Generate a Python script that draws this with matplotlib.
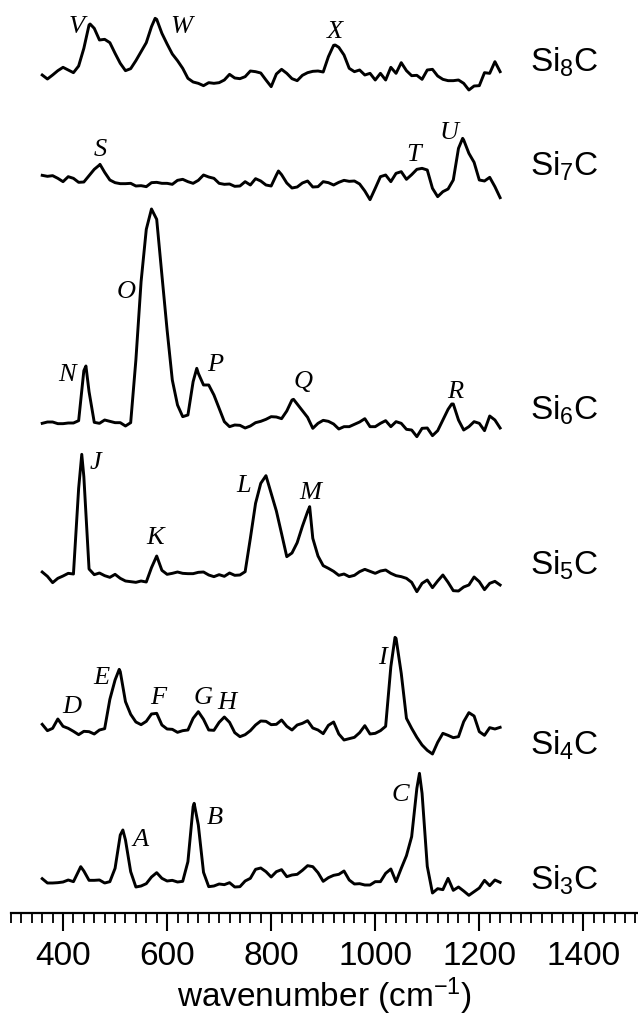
import numpy as np
import matplotlib
matplotlib.use('Agg')
import matplotlib.pyplot as plt
from matplotlib.ticker import MultipleLocator

plt.rcParams['font.family'] = ['Liberation Sans', 'DejaVu Sans']
plt.rcParams['mathtext.default'] = 'regular'

# wavenumber grid (cm-1) shared by all traces
wn = [360, 370, 380, 390, 400, 410, 420, 430, 440, 450, 460, 470, 480, 490, 500,
      510, 520, 530, 540, 550, 560, 570, 580, 590, 600, 610, 620, 630, 640, 650,
      660, 670, 680, 690, 700, 710, 720, 730, 740, 750, 760, 770, 780, 790, 800,
      810, 820, 830, 840, 850, 860, 870, 880, 890, 900, 910, 920, 930, 940, 950,
      960, 970, 980, 990, 1000, 1010, 1020, 1030, 1040, 1050, 1060, 1070, 1080,
      1090, 1100, 1110, 1120, 1130, 1140, 1150, 1160, 1170, 1180, 1190, 1200,
      1210, 1220, 1230, 1240]

si8c = [55, 43, 55, 68, 78, 70, 62, 82, 135, 205, 195, 160, 162, 152, 120,
        90, 68, 74, 98, 125, 152, 200, 222, 180, 148, 118, 98, 75, 45, 34,
        30, 23, 32, 30, 32, 40, 57, 46, 44, 50, 67, 65, 61, 40, 20,
        58, 72, 60, 44, 38, 54, 62, 66, 67, 64, 110, 144, 138, 115, 75,
        65, 70, 55, 60, 40, 60, 40, 78, 60, 92, 68, 53, 54,
        42, 70, 72, 52, 42, 38, 38, 40, 30, 10, 22, 23,
        62, 60, 95, 65]
si8c_pk_x = [452, 577, 923]
si8c_pk_y = [208, 225, 145]

si7c = [79, 76, 78, 70, 60, 75, 70, 58, 59, 78, 97, 110, 88, 65, 57,
        54, 54, 55, 47, 48, 45, 57, 58, 55, 55, 52, 64, 67, 60, 55,
        64, 80, 74, 70, 55, 52, 53, 46, 47, 60, 50, 69, 62, 50, 47,
        80, 81, 56, 41, 44, 56, 62, 44, 45, 60, 57, 50, 58, 64, 61,
        62, 53, 32, 6, 40, 75, 80, 60, 85, 90, 67, 81, 97,
        100, 95, 40, 15, 30, 38, 65, 160, 185, 145, 118, 65,
        62, 73, 45, 12]
si7c_pk_x = [471, 814, 1168]
si7c_pk_y = [112, 92, 190]

si6c = [45, 49, 49, 44, 44, 46, 46, 53, 203, 140, 48, 45, 55, 51, 47,
        47, 37, 47, 235, 470, 627, 688, 657, 490, 325, 175, 100, 65, 70, 170,
        195, 160, 160, 130, 90, 50, 35, 40, 39, 31, 37, 47, 51, 57, 65,
        64, 59, 82, 115, 103, 83, 63, 30, 45, 54, 51, 43, 28, 35, 35,
        42, 49, 59, 35, 35, 45, 53, 35, 50, 45, 27, 25, 5,
        30, 31, 8, 23, 55, 87, 103, 55, 25, 35, 50, 45,
        23, 67, 55, 31]
si6c_pk_x = [444, 657, 843, 1147]
si6c_pk_y = [217, 210, 117, 103]

si5c = [64, 51, 32, 45, 52, 60, 58, 315, 350, 73, 56, 61, 53, 48, 57,
        45, 37, 35, 33, 37, 34, 77, 112, 69, 57, 60, 64, 60, 59, 59,
        63, 64, 55, 50, 56, 51, 61, 54, 55, 65, 165, 270, 330, 353, 300,
        247, 179, 110, 121, 152, 201, 245, 165, 112, 83, 75, 66, 54, 58, 50,
        54, 65, 72, 66, 60, 67, 70, 60, 53, 50, 45, 33, 5,
        30, 40, 17, 37, 55, 33, 8, 7, 19, 25, 49, 35,
        11, 30, 36, 25]
si5c_pk_x = [436, 874]
si5c_pk_y = [417, 260]

si4c = [97, 78, 85, 113, 91, 85, 76, 66, 76, 75, 68, 80, 84, 172, 230,
        255, 165, 127, 104, 96, 106, 128, 130, 95, 83, 82, 73, 78, 80, 115,
        135, 112, 80, 79, 103, 119, 103, 72, 60, 66, 78, 95, 107, 106, 96,
        97, 110, 91, 80, 95, 100, 108, 86, 80, 69, 94, 104, 68, 50, 54,
        58, 72, 93, 68, 70, 78, 91, 270, 355, 250, 115, 85, 58,
        35, 19, 8, 43, 70, 64, 57, 60, 105, 132, 122, 75,
        64, 87, 83, 88]
si4c_pk_x = [508, 1038]
si4c_pk_y = [262, 358]

si3c = [54, 41, 41, 42, 44, 50, 45, 77, 77, 49, 49, 50, 41, 45, 85,
        185, 170, 75, 29, 32, 39, 59, 72, 55, 47, 49, 44, 46, 105, 270,
        215, 73, 30, 32, 38, 36, 42, 29, 30, 47, 55, 82, 86, 75, 59,
        75, 81, 60, 65, 67, 79, 93, 90, 72, 46, 57, 64, 67, 77, 50,
        38, 39, 35, 35, 45, 45, 70, 83, 45, 85, 123, 180, 325,
        310, 91, 11, 24, 21, 55, 19, 29, 17, 4, 15, 26,
        49, 33, 50, 43]
si3c_pk_x = [434, 515, 652, 1085]
si3c_pk_y = [90, 200, 280, 370]

names = ['8', '7', '6', '5', '4', '3']
traces = [(si8c, si8c_pk_x, si8c_pk_y), (si7c, si7c_pk_x, si7c_pk_y),
          (si6c, si6c_pk_x, si6c_pk_y), (si5c, si5c_pk_x, si5c_pk_y),
          (si4c, si4c_pk_x, si4c_pk_y), (si3c, si3c_pk_x, si3c_pk_y)]
offsets = [2459, 2134, 1424, 959, 469, 49]
name_y = [2553, 2240, 1509, 1044, 504, 99]

# peak letters: (letter, wavenumber, height)
peak_labels = [('V', 426, 2659), ('W', 628, 2659), ('X', 923, 2644),
               ('S', 471, 2289), ('T', 1074, 2274), ('U', 1141, 2339),
               ('N', 407, 1614), ('O', 522, 1864), ('P', 692, 1644),
               ('Q', 862, 1594), ('R', 1154, 1564),
               ('J', 462, 1349), ('K', 577, 1124), ('L', 747, 1282), ('M', 875, 1259),
               ('D', 417, 619), ('E', 474, 704), ('F', 583, 644), ('G', 670, 644),
               ('H', 715, 629), ('I', 1013, 764),
               ('A', 548, 219), ('B', 692, 284), ('C', 1048, 354)]

fig = plt.figure(figsize=(6.38, 10.16), dpi=100)
ax = fig.add_axes([11 / 638, 103 / 1016, 627 / 638, 913 / 1016])

for (vals, px, py), off, n, ny in zip(traces, offsets, names, name_y):
    x = np.concatenate([wn, px])
    y = np.concatenate([vals, py]).astype(float)
    order = np.argsort(x)
    ax.plot(x[order], y[order] + off, color='black', lw=2.1)
    ax.text(1298, ny, 'Si$_{%s}$C' % n, fontsize=24, ha='left', va='center')

for lab, x, y in peak_labels:
    ax.text(x, y, lab, fontsize=19, family='Liberation Serif', style='italic',
            ha='center', va='center')

ax.set_xlim(300, 1505)
ax.set_ylim(0, 2739)
for s in ['left', 'right', 'top']:
    ax.spines[s].set_visible(False)
ax.spines['bottom'].set_linewidth(1.6)
ax.set_yticks([])
ax.xaxis.set_major_locator(MultipleLocator(200))
ax.xaxis.set_minor_locator(MultipleLocator(20))
ax.tick_params(axis='x', which='major', direction='out', length=13, width=1.5,
               labelsize=24, pad=7)
ax.tick_params(axis='x', which='minor', direction='out', length=7, width=1.3)
ax.set_xlabel('wavenumber (cm$^{-1}$)', fontsize=24, labelpad=3)

fig.savefig('out.png', dpi=100)
